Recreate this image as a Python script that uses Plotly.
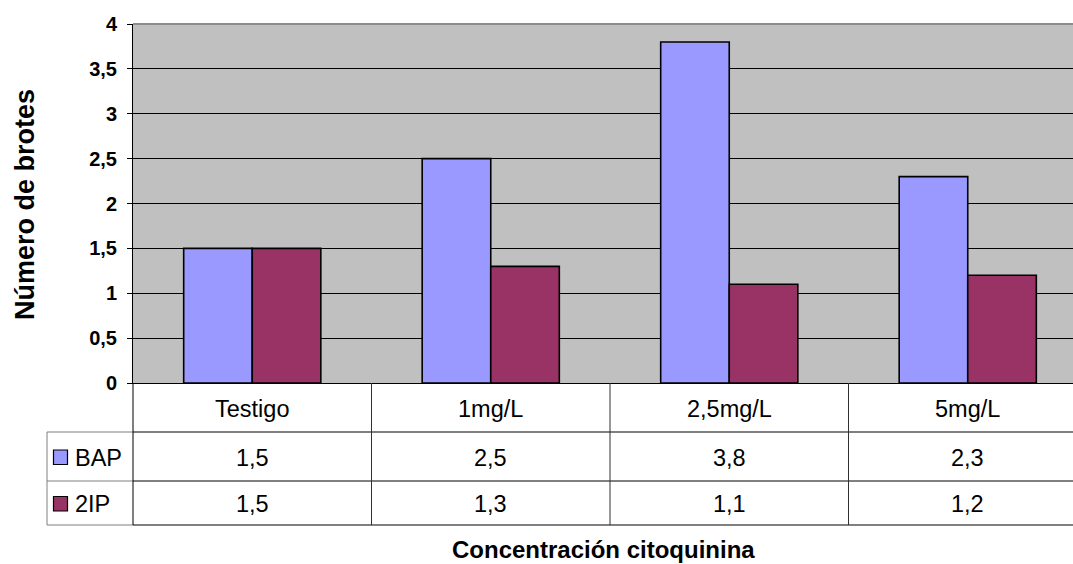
import plotly.graph_objects as go

# Data
categories = ["Testigo", "1mg/L", "2,5mg/L", "5mg/L"]
series_names = ["BAP", "2IP"]
bap_values = [1.5, 2.5, 3.8, 2.3]
ip2_values = [1.5, 1.3, 1.1, 1.2]
y_ticks = [0, 0.5, 1, 1.5, 2, 2.5, 3, 3.5, 4]

colors = ["#9999FF", "#993366"]
FONT = "Liberation Sans, Arial, sans-serif"

W, H = 1073, 564
L, T, B_PX = 133, 24, 383          # plot area left / top / bottom in pixels
PLOT_W = W - L
PLOT_H = B_PX - T
CAT_W = 238.5                       # pixel width of one category slot
x_hi = -0.5 + PLOT_W / CAT_W        # plot area is cut at the right edge


def py(ypx):
    """pixel row -> paper y"""
    return (B_PX - ypx) / PLOT_H


def px(xpx):
    """pixel column -> paper x"""
    return (xpx - L) / PLOT_W


def cat_px(i):
    """pixel column of a category centre (i may be fractional)"""
    return L + (i + 0.5) * CAT_W


def fmt(v):
    return f"{v:.1f}".replace(".", ",")


xs = list(range(len(categories)))

fig = go.Figure()
for name, vals, col in zip(series_names, [bap_values, ip2_values], colors):
    fig.add_trace(go.Bar(
        x=xs, y=vals, name=name,
        marker=dict(color=col, line=dict(color="black", width=1.6)),
        hoverinfo="x+y",
    ))

shapes = []
annotations = []

# Data table rows (pixel rows)
row_top, row_bap, row_ip, row_bot = B_PX, 432, 481, 525
leg_left = 47

line_dark = dict(color="black", width=1)
line_grey = dict(color="#7f7f7f", width=1)


def hline(ypx, x0, x1, line):
    shapes.append(dict(type="line", xref="paper", yref="paper",
                       x0=px(x0), x1=px(x1), y0=py(ypx), y1=py(ypx), line=line))


def vline(xpx, y0, y1, line):
    shapes.append(dict(type="line", xref="paper", yref="paper",
                       x0=px(xpx), x1=px(xpx), y0=py(y0), y1=py(y1), line=line))


# horizontal table lines
for ypx in (row_bap, row_ip, row_bot):
    hline(ypx, L, W + 5, line_dark)
    hline(ypx, leg_left, L, line_grey)
# vertical table lines
vline(L, row_top, row_bot, line_dark)
for i in range(1, len(categories)):
    vline(cat_px(i - 0.5), row_top, row_bot, dict(color="#303030", width=1))
vline(leg_left, row_bap, row_bot, line_grey)
# top border of the plot area
hline(T, L, W + 5, dict(color="#8c8c8c", width=2))

# category labels
for i, c in enumerate(categories):
    annotations.append(dict(x=px(cat_px(i)), y=py((row_top + row_bap) / 2 + 1),
                            xref="paper", yref="paper",
                            text=c, showarrow=False, xanchor="center", yanchor="middle",
                            font=dict(family=FONT, size=23.5, color="black")))

# series rows: legend key, name, values
rows = [(row_bap, row_ip), (row_ip, row_bot)]
for (r0, r1), name, vals, col in zip(rows, series_names, [bap_values, ip2_values], colors):
    yc = (r0 + r1) / 2
    shapes.append(dict(type="rect", xref="paper", yref="paper",
                       x0=px(53.5), x1=px(67.5), y0=py(yc - 6.5), y1=py(yc + 8),
                       fillcolor=col, line=dict(color="black", width=1.2)))
    annotations.append(dict(x=px(73), y=py(yc + 1), xref="paper", yref="paper",
                            text=name, showarrow=False, xanchor="left", yanchor="middle",
                            font=dict(family=FONT, size=23.5, color="black")))
    for i, v in enumerate(vals):
        annotations.append(dict(x=px(cat_px(i)), y=py(yc + 1), xref="paper", yref="paper",
                                text=fmt(v), showarrow=False, xanchor="center",
                                yanchor="middle",
                                font=dict(family=FONT, size=23.5, color="black")))

# axis titles
annotations.append(dict(x=px(603), y=py(549), xref="paper", yref="paper",
                        text="<b>Concentración citoquinina</b>", showarrow=False,
                        xanchor="center", yanchor="middle",
                        font=dict(family=FONT, size=24, color="black")))
annotations.append(dict(x=px(25), y=py(205), xref="paper", yref="paper",
                        text="<b>Número de brotes</b>", showarrow=False, textangle=-90,
                        xanchor="center", yanchor="middle",
                        font=dict(family=FONT, size=27, color="black")))

fig.update_layout(
    width=W, height=H,
    margin=dict(l=L, r=0, t=T, b=H - B_PX, pad=0),
    paper_bgcolor="white",
    plot_bgcolor="#C0C0C0",
    separators=",.",
    barmode="group",
    bargap=0.425,
    bargroupgap=0,
    showlegend=False,
    shapes=shapes,
    annotations=annotations,
    font=dict(family=FONT, color="black"),
)

fig.update_xaxes(
    range=[-0.5, x_hi], showticklabels=False, ticks="",
    showgrid=False, zeroline=False,
    showline=True, linecolor="black", linewidth=1,
)
fig.update_yaxes(
    range=[0, 4], tickvals=y_ticks,
    ticks="outside", ticklen=5, tickcolor="black", tickwidth=1,
    ticklabelstandoff=6,
    tickfont=dict(family=FONT, size=20, color="black", weight="bold"),
    showgrid=True, gridcolor="black", gridwidth=1,
    zeroline=True, zerolinecolor="black", zerolinewidth=1,
    showline=True, linecolor="black", linewidth=1,
)

fig.write_html("out.html")
